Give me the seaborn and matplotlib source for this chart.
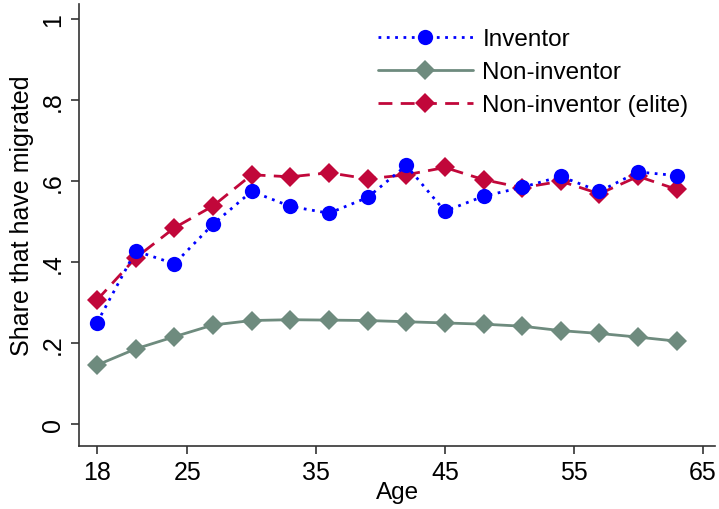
import matplotlib
matplotlib.use("Agg")
import matplotlib.pyplot as plt
import seaborn as sns
import pandas as pd
from matplotlib import font_manager

ages = [18, 21, 24, 27, 30, 33, 36, 39, 42, 45, 48, 51, 54, 57, 60, 63]
inventor = [0.251, 0.428, 0.396, 0.494, 0.575, 0.538, 0.521, 0.560, 0.639, 0.526,
            0.563, 0.585, 0.612, 0.575, 0.623, 0.614]
non_inventor = [0.146, 0.186, 0.216, 0.245, 0.256, 0.258, 0.257, 0.256, 0.253, 0.250,
                0.247, 0.242, 0.231, 0.224, 0.215, 0.205]
elite = [0.307, 0.411, 0.485, 0.539, 0.616, 0.611, 0.621, 0.606, 0.616, 0.634,
         0.604, 0.584, 0.600, 0.569, 0.612, 0.580]

x_ticks = [18, 25, 35, 45, 55, 65]
y_ticks = [0, 0.2, 0.4, 0.6, 0.8, 1]
y_labels = ["0", ".2", ".4", ".6", ".8", "1"]

sns.set_style("ticks")
names = {f.name for f in font_manager.fontManager.ttflist}
fam = "Liberation Sans Narrow" if "Liberation Sans Narrow" in names else "Liberation Sans"
plt.rcParams["font.family"] = ["Liberation Sans", "DejaVu Sans"]
plt.rcParams["text.color"] = "black"
plt.rcParams["axes.labelcolor"] = "black"
plt.rcParams["xtick.labelcolor"] = "black"
plt.rcParams["ytick.labelcolor"] = "black"

df = pd.DataFrame({"age": ages, "inv": inventor, "non": non_inventor, "elite": elite})

fig = plt.figure(figsize=(7.19, 5.10), dpi=100)
ax = fig.add_axes([0.110, 0.1235, 0.885, 0.866])

# draw order: grey, red, then blue on top
sns.lineplot(data=df, x="age", y="non", ax=ax, color="#6e8b7e", lw=2,
             marker="D", markersize=10.5, markeredgewidth=0, label="Non-inventor")
sns.lineplot(data=df, x="age", y="elite", ax=ax, color="#c1073a", lw=2,
             marker="D", markersize=10.5, markeredgewidth=0, dashes=(5, 3),
             label="Non-inventor (elite)")
sns.lineplot(data=df, x="age", y="inv", ax=ax, color="#0000ff", lw=2,
             marker="o", markersize=11, markeredgewidth=0, dashes=(1, 2),
             label="Inventor")

ax.set_xlim(16.6, 66.0)
ax.set_ylim(-0.054, 1.037)
ax.set_xticks(x_ticks)
ax.set_xticklabels([str(t) for t in x_ticks], family=[fam, "DejaVu Sans"], fontsize=18)
ax.set_yticks(y_ticks)
ax.set_yticklabels(y_labels, rotation=90, va="center", fontsize=18)
ax.set_xlabel("Age", fontsize=17.5, labelpad=-2)
ax.set_ylabel("Share that have migrated", fontsize=18, labelpad=2)
ax.yaxis.set_label_coords(-0.071, 0.523)

for s in ["top", "right"]:
    ax.spines[s].set_visible(False)
for s in ["left", "bottom"]:
    ax.spines[s].set_color("#333333")
    ax.spines[s].set_linewidth(1.2)
ax.tick_params(direction="out", length=6, width=1.2, color="#333333", pad=4)

h, l = ax.get_legend_handles_labels()
order = [l.index("Inventor"), l.index("Non-inventor"), l.index("Non-inventor (elite)")]
ax.legend([h[i] for i in order], [l[i] for i in order], loc="upper right",
          bbox_to_anchor=(0.992, 0.995), frameon=False, fontsize=17.5,
          handlelength=3.9, handletextpad=0.4, labelspacing=0.45, numpoints=1)

fig.savefig("out.png", dpi=100)
